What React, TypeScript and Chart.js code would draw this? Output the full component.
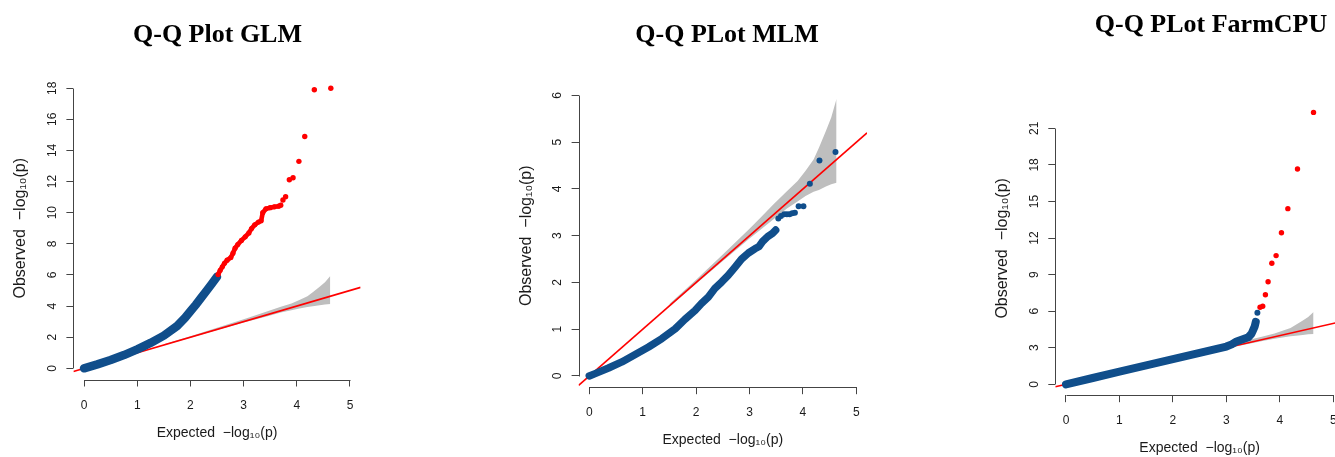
import React, { useEffect, useRef } from "react";
import { Chart, registerables } from "chart.js";

Chart.register(...registerables);
Chart.defaults.font.family = "'Liberation Sans', Arial, Helvetica, sans-serif";

// ---------------- data ----------------
const X_TICK_MAX = 5;

// shared confidence band (expected vs bounds)
const bandX = [1.5, 2.0, 2.5, 3.0, 3.2, 3.45, 3.7, 3.9, 4.05, 4.2, 4.3, 4.43, 4.53, 4.63];
const bandHi = [1.54, 2.06, 2.6, 3.15, 3.38, 3.67, 3.95, 4.17, 4.39, 4.63, 4.88, 5.24, 5.53, 5.93];
const bandLo = [1.48, 1.97, 2.46, 2.94, 3.12, 3.35, 3.58, 3.73, 3.85, 3.94, 3.98, 4.05, 4.1, 4.13];

// y = x reference line end points
const refLine = [-0.2, 5.2];

// GLM
const glmBlueX = [0, 0.25, 0.5, 0.75, 1.0, 1.25, 1.5, 1.75, 1.9, 2.0, 2.1, 2.2, 2.3, 2.4, 2.5];
const glmBlueY = [0, 0.25, 0.53, 0.85, 1.22, 1.63, 2.1, 2.72, 3.25, 3.66, 4.08, 4.52, 4.97, 5.42, 5.88];
const glmRedTrackX = [2.52, 2.56, 2.6, 2.64, 2.69, 2.76, 2.8, 2.84, 2.89, 2.96, 3.03, 3.1, 3.15, 3.21, 3.28, 3.33, 3.36, 3.42, 3.5, 3.58, 3.66, 3.7];
const glmRedTrackY = [6.02, 6.3, 6.52, 6.75, 6.95, 7.12, 7.4, 7.72, 7.95, 8.22, 8.45, 8.7, 8.98, 9.22, 9.4, 9.48, 10.0, 10.25, 10.32, 10.38, 10.42, 10.48];
const glmRedX = [3.74, 3.79, 3.86, 3.93, 4.04, 4.15, 4.33, 4.64];
const glmRedY = [10.82, 11.02, 12.12, 12.25, 13.3, 14.9, 17.9, 18.0];

// MLM
const mlmBlueX = [0, 0.11, 0.36, 0.61, 0.86, 1.11, 1.36, 1.61, 1.79, 1.98, 2.1, 2.23, 2.35, 2.48, 2.6, 2.73, 2.85, 2.98, 3.1, 3.18, 3.24, 3.34, 3.43, 3.49];
const mlmBlueY = [0, 0.05, 0.17, 0.3, 0.46, 0.62, 0.8, 1.01, 1.21, 1.4, 1.55, 1.69, 1.87, 2.01, 2.15, 2.33, 2.5, 2.63, 2.72, 2.77, 2.87, 2.98, 3.05, 3.12];
const mlmBluePtsX = [3.54, 3.59, 3.65, 3.7, 3.75, 3.8, 3.85, 3.92, 4.01, 4.13, 4.31, 4.61];
const mlmBluePtsY = [3.37, 3.42, 3.46, 3.46, 3.46, 3.48, 3.49, 3.63, 3.63, 4.11, 4.61, 4.79];

// FarmCPU
const farmBlueX = [0, 0.5, 1.0, 1.5, 2.0, 2.5, 2.88, 3.0, 3.1, 3.19, 3.32, 3.41, 3.47, 3.5, 3.53, 3.55];
const farmBlueY = [0, 0.52, 1.04, 1.55, 2.06, 2.58, 2.97, 3.1, 3.28, 3.52, 3.72, 3.86, 4.15, 4.45, 4.75, 5.13];
const farmBluePtsX = [3.58];
const farmBluePtsY = [5.87];
const farmRedX = [3.63, 3.68, 3.73, 3.78, 3.85, 3.93, 4.03, 4.15, 4.33, 4.63];
const farmRedY = [6.32, 6.4, 7.35, 8.42, 9.93, 10.56, 12.44, 14.41, 17.66, 22.31];

const titles = ["Q-Q Plot GLM", "Q-Q PLot MLM", "Q-Q PLot FarmCPU"];
const yTopValues = [18, 6, 22.31];
const yStepValues = [2, 1, 3];
const X_TITLE = "Expected  \u2212log\u2081\u2080(p)";
const Y_TITLE = "Observed  \u2212log\u2081\u2080(p)";

// ---------------- styles ----------------
const BLUE = "#104E8B";
const RED = "#FF0000";
const BAND = "#BEBEBE";
const AXIS = "#444444";
const TEXT = "#1a1a1a";
const H = 457;

type Layout = {
  left: number; width: number; rightPad: number; yW: number; xH: number;
  titleTop: number; titleBottom: number; yTitlePad: number; xTitlePad: number; yTickPad: number;
  curveWidth: number;
};

const layouts: Layout[] = [
  { left: 0, width: 435, rightPad: 74.4, yW: 73.4, xH: 77.5, titleTop: 20, titleBottom: 25.8, yTitlePad: 10.5, xTitlePad: 15.6, yTickPad: 7.3, curveWidth: 8.5 },
  { left: 497, width: 460, rightPad: 90, yW: 81.6, xH: 69.8, titleTop: 20, titleBottom: 33, yTitlePad: 19.7, xTitlePad: 8.6, yTickPad: 10.7, curveWidth: 7.5 },
  { left: 985, width: 452, rightPad: 93, yW: 70.3, xH: 61.8, titleTop: 9.4, titleBottom: 60.9, yTitlePad: 8.1, xTitlePad: 0.6, yTickPad: 7.3, curveWidth: 8 },
];

const zip = (xs: number[], ys: number[]) => xs.map((x, i) => ({ x, y: ys[i] }));

const rAxisPlugin = {
  id: "rAxis",
  beforeDatasetsDraw(chart: any) {
    const { ctx, chartArea } = chart;
    const xs = chart.scales.x;
    const ys = chart.scales.y;
    const xt = xs.ticks;
    const yt = ys.ticks;
    ctx.save();
    ctx.strokeStyle = AXIS;
    ctx.lineWidth = 1;
    ctx.beginPath();
    const yb = Math.round(chartArea.bottom) + 0.5;
    ctx.moveTo(Math.round(xs.getPixelForValue(xt[0].value)) + 0.5, yb);
    ctx.lineTo(Math.round(xs.getPixelForValue(xt[xt.length - 1].value)) + 0.5, yb);
    const xl = Math.round(chartArea.left) + 0.5;
    ctx.moveTo(xl, Math.round(ys.getPixelForValue(yt[0].value)) + 0.5);
    ctx.lineTo(xl, Math.round(ys.getPixelForValue(yt[yt.length - 1].value)) + 0.5);
    ctx.stroke();
    ctx.restore();
  },
};

type Series = {
  blue: { x: number[]; y: number[] };
  bluePts?: { x: number[]; y: number[] };
  redTrack?: { x: number[]; y: number[] };
  redPts?: { x: number[]; y: number[] };
};

const series: Series[] = [
  { blue: { x: glmBlueX, y: glmBlueY }, redTrack: { x: glmRedTrackX, y: glmRedTrackY }, redPts: { x: glmRedX, y: glmRedY } },
  { blue: { x: mlmBlueX, y: mlmBlueY }, bluePts: { x: mlmBluePtsX, y: mlmBluePtsY } },
  { blue: { x: farmBlueX, y: farmBlueY }, bluePts: { x: farmBluePtsX, y: farmBluePtsY }, redPts: { x: farmRedX, y: farmRedY } },
];

function buildConfig(i: number): any {
  const L = layouts[i];
  const s = series[i];
  const yTop = yTopValues[i];
  const datasets: any[] = [
    { label: "band upper", data: zip(bandX, bandHi), borderWidth: 0, borderColor: "rgba(0,0,0,0)", pointRadius: 0, fill: "+1", backgroundColor: BAND, order: 6, yAxisID: "y" },
    { label: "band lower", data: zip(bandX, bandLo), borderWidth: 0, borderColor: "rgba(0,0,0,0)", pointRadius: 0, fill: false, order: 7, yAxisID: "y" },
    { label: "expected", data: zip(refLine, refLine), borderColor: RED, borderWidth: 1.6, pointRadius: 0, fill: false, order: 5, yAxisID: "y" },
    { label: "observed", data: zip(s.blue.x, s.blue.y), borderColor: BLUE, borderWidth: L.curveWidth, borderCapStyle: "round", borderJoinStyle: "round", pointRadius: 0, fill: false, order: 4, yAxisID: "y" },
  ];
  if (s.bluePts) {
    datasets.push({ label: "observed points", data: zip(s.bluePts.x, s.bluePts.y), showLine: false, pointRadius: 3, pointBackgroundColor: BLUE, pointBorderWidth: 0, borderColor: BLUE, order: 3, yAxisID: "y" });
  }
  if (s.redTrack) {
    datasets.push({ label: "significant track", data: zip(s.redTrack.x, s.redTrack.y), borderColor: RED, borderWidth: 4.6, borderCapStyle: "round", borderJoinStyle: "round", pointRadius: 2.6, pointBackgroundColor: RED, pointBorderWidth: 0, fill: false, order: 2, yAxisID: "y" });
  }
  if (s.redPts) {
    datasets.push({ label: "significant", data: zip(s.redPts.x, s.redPts.y), showLine: false, pointRadius: 2.7, pointBackgroundColor: RED, pointBorderWidth: 0, borderColor: RED, order: 1, yAxisID: "y" });
  }
  return {
    type: "line",
    data: { datasets },
    options: {
      animation: false,
      responsive: false,
      devicePixelRatio: 1,
      events: [],
      layout: { padding: 0 },
      plugins: {
        legend: { display: false },
        tooltip: { enabled: false },
        title: {
          display: true,
          text: titles[i],
          color: "#000",
          font: { family: "'Liberation Serif', 'Times New Roman', serif", size: 26, weight: "bold" },
          padding: { top: L.titleTop, bottom: L.titleBottom },
        },
      },
      scales: {
        x: {
          type: "linear",
          position: "bottom",
          min: -0.04 * X_TICK_MAX,
          max: X_TICK_MAX * 1.04,
          afterFit: (sc: any) => { sc.height = L.xH; },
          grid: { display: true, drawOnChartArea: false, drawTicks: true, tickLength: 7, color: AXIS, lineWidth: 1 },
          border: { display: false },
          ticks: { stepSize: 1, includeBounds: false, autoSkip: false, minRotation: 0, maxRotation: 0, padding: 11.5, color: TEXT, font: { size: 12 } },
          title: { display: true, text: X_TITLE, color: TEXT, font: { size: 14 }, padding: { top: 0, bottom: L.xTitlePad } },
        },
        y: {
          type: "linear",
          position: "left",
          min: -0.04 * yTop,
          max: yTop * 1.04,
          afterFit: (sc: any) => { sc.width = L.yW; },
          grid: { display: true, drawOnChartArea: false, drawTicks: true, tickLength: 7, color: AXIS, lineWidth: 1 },
          border: { display: false },
          ticks: { stepSize: yStepValues[i], includeBounds: false, autoSkip: false, minRotation: 90, maxRotation: 90, crossAlign: "center", padding: L.yTickPad, color: TEXT, font: { size: 12 } },
          title: { display: true, text: Y_TITLE, color: TEXT, font: { size: 16 }, padding: { top: L.yTitlePad, bottom: 0 } },
        },
        yr: {
          type: "linear",
          position: "right",
          display: true,
          afterFit: (sc: any) => { sc.width = L.rightPad; },
          ticks: { display: false },
          grid: { display: false },
          border: { display: false },
        },
      },
    },
    plugins: [rAxisPlugin],
  };
}

function Panel({ index }: { index: number }) {
  const ref = useRef<HTMLCanvasElement>(null);
  const L = layouts[index];
  useEffect(() => {
    if (!ref.current) return;
    const chart = new Chart(ref.current, buildConfig(index));
    return () => chart.destroy();
  }, [index]);
  return (
    <div style={{ position: "absolute", left: L.left, top: 0, width: L.width, height: H }}>
      <canvas ref={ref} width={L.width} height={H} style={{ display: "block", width: L.width, height: H }} />
    </div>
  );
}

export default function App() {
  return (
    <div style={{ position: "absolute", left: 0, top: 0, width: 1335, height: H, overflow: "hidden", background: "#fff" }}>
      <Panel index={0} />
      <Panel index={1} />
      <Panel index={2} />
    </div>
  );
}
